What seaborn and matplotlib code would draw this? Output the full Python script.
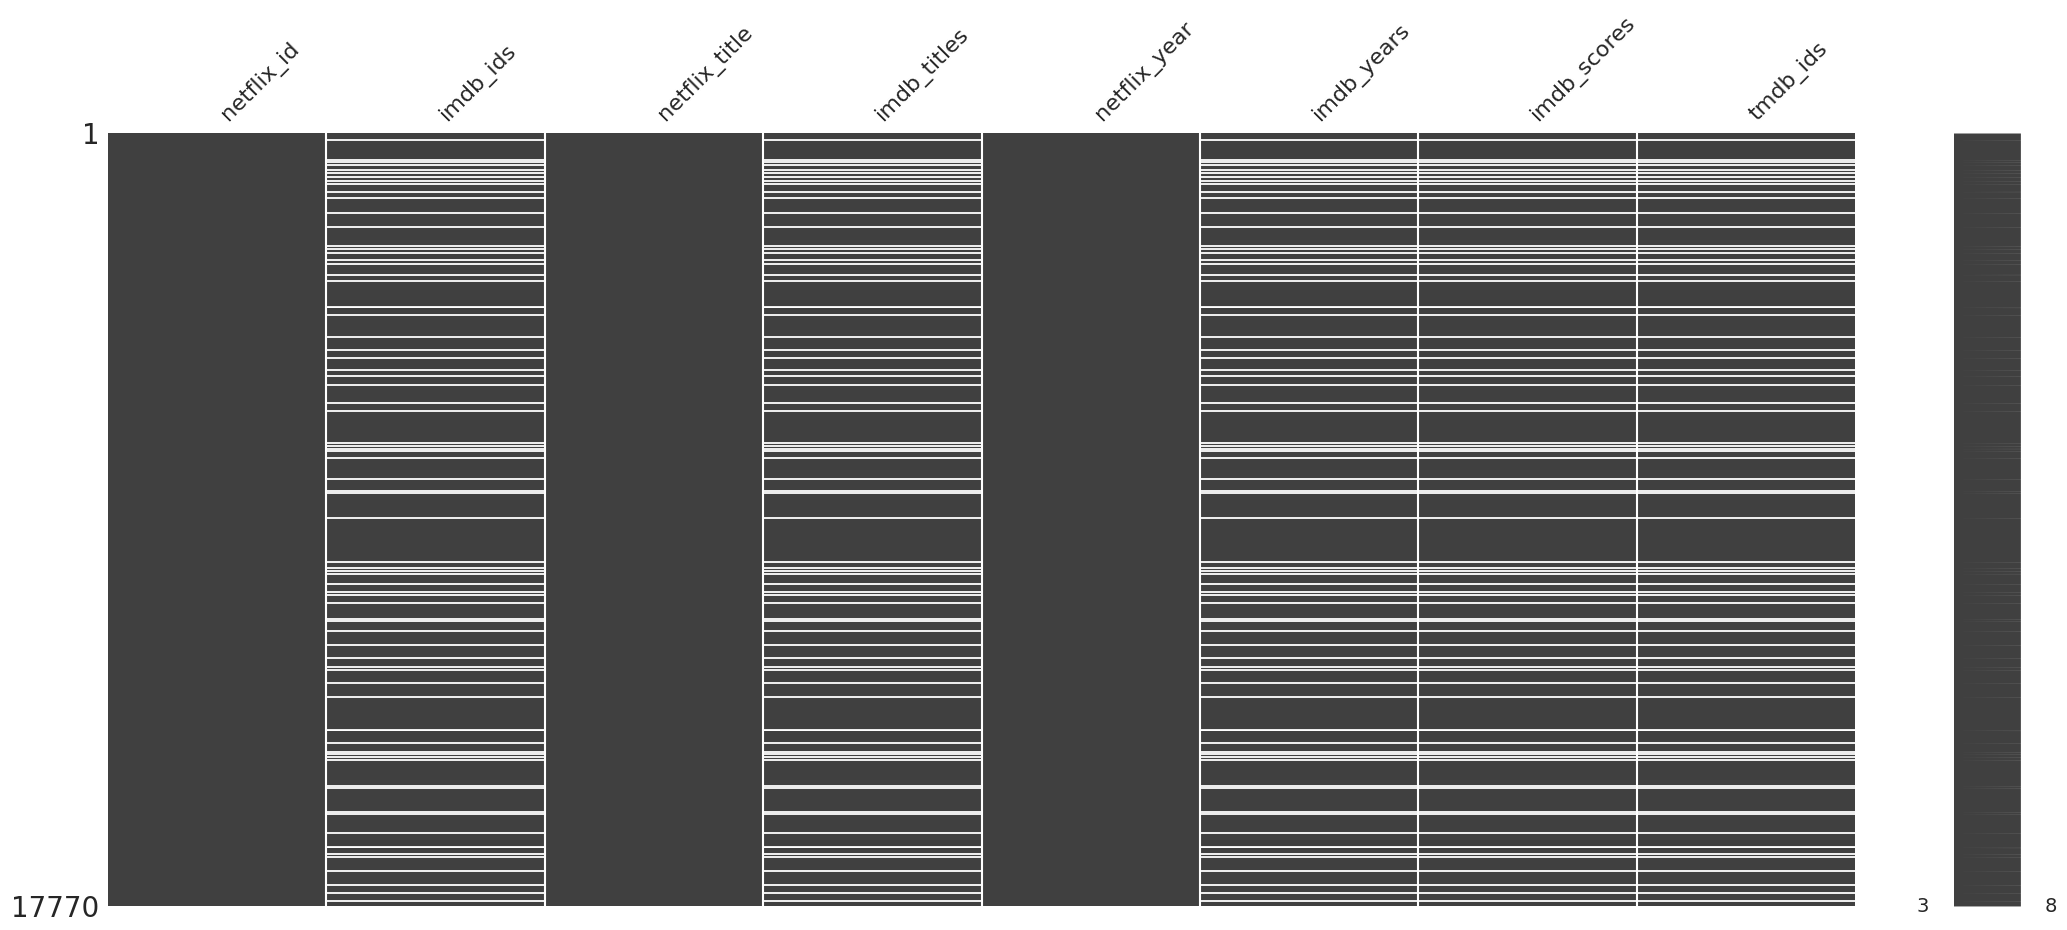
import matplotlib
matplotlib.use("Agg")
import matplotlib.pyplot as plt
import numpy as np
import pandas as pd
import seaborn as sns
from matplotlib.colors import ListedColormap

sns.set_style("white")

columns = ["netflix_id", "imdb_ids", "netflix_title", "imdb_titles",
           "netflix_year", "imdb_years", "imdb_scores", "tmdb_ids"]
n_rows = 17770
# columns that share the missing rows
missing_cols = ["imdb_ids", "imdb_titles", "imdb_years", "imdb_scores", "tmdb_ids"]
# row indices where the imdb/tmdb columns are empty
missing_rows = [159, 612, 673, 734, 856, 929, 1015, 1101, 1162, 1345, 1504, 1834,
                2152, 2605, 2666, 2752, 2911, 3009, 3253, 3400, 4011, 4183, 4684,
                4990, 5173, 5454, 5577, 5785, 6213, 6397, 7131, 7192, 7253, 7314,
                7461, 7950, 8231, 8268, 8843, 9858, 10004, 10065, 10127, 10371,
                10555, 10616, 10799, 11166, 11227, 11447, 11777, 12059, 12267,
                12352, 12634, 12964, 13735, 14016, 14224, 14285, 14346, 14407,
                15019, 15055, 15605, 15654, 16095, 16425, 16584, 16633, 16975,
                17281, 17464, 17648]

present = pd.DataFrame(1, index=range(n_rows), columns=columns)
present.loc[missing_rows, missing_cols] = 0
completeness = present.sum(axis=1).values

dark = "#404040"
fig = plt.figure(figsize=(20.67, 9.3), dpi=100)
ax = fig.add_axes([108 / 2067, 24 / 930, 1747 / 2067, 773 / 930])
sns.heatmap(present, ax=ax, cmap=ListedColormap(["white", dark]), vmin=0, vmax=1,
            cbar=False, xticklabels=False, yticklabels=False)

# missing rows as thin white lines so single rows stay visible
for j, c in enumerate(columns):
    if c in missing_cols:
        ax.hlines(missing_rows, j, j + 1, color="white", linewidth=1.3)
for j in range(1, len(columns)):
    ax.axvline(j, color="white", linewidth=1.5)

ax.xaxis.tick_top()
ax.set_xticks(np.arange(len(columns)) + 0.5)
ax.set_xticklabels(columns, rotation=45, ha="left", fontsize=16)
ax.set_yticks([0.5, n_rows - 0.5])
ax.set_yticklabels(["1", str(n_rows)], fontsize=20)
ax.tick_params(length=0, pad=6)
ax.set_xlim(0, len(columns))
ax.set_ylim(n_rows, 0)
for s in ax.spines.values():
    s.set_visible(False)

# sparkline of row completeness
ax2 = fig.add_axes([1954 / 2067, 24 / 930, 67 / 2067, 773 / 930])
rows = np.arange(n_rows)
ax2.fill_betweenx(rows, 0, completeness, color=dark, linewidth=0)
ax2.set_xlim(completeness.min() - 0.3, completeness.max() + 0.05)
ax2.set_ylim(n_rows, 0)
ax2.axis("off")
ax2.text(completeness.min() - 2.8, n_rows, str(completeness.min()),
         fontsize=14, ha="center", va="center")
ax2.text(completeness.max() + 2.45, n_rows, str(completeness.max()),
         fontsize=14, ha="center", va="center")

fig.savefig("out.png", dpi=100)
